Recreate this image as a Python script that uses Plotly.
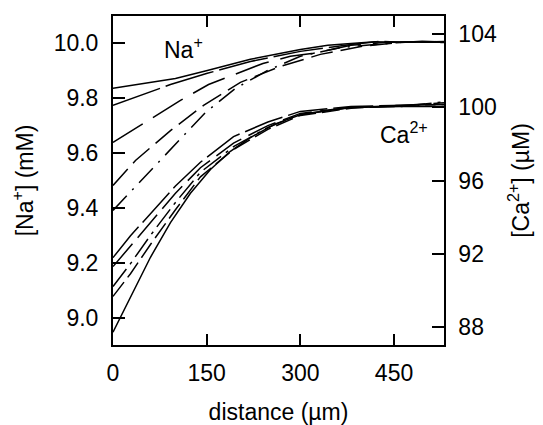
import plotly.graph_objects as go

# ---- Na+ profiles (left axis, mM) ----
na1_x = [0, 60, 100, 151, 220, 300, 344, 381, 420, 461, 495, 530]
na1_y = [9.836, 9.858, 9.872, 9.901, 9.942, 9.978, 9.993, 10.000, 10.006, 10.003, 10.008, 10.005]
na2_x = [0, 43, 92, 151, 220, 300, 381, 430, 461, 500, 530]
na2_y = [9.774, 9.810, 9.850, 9.891, 9.934, 9.971, 9.996, 10.008, 10.004, 10.006, 10.003]
na3_x = [0, 36, 68, 108, 153, 196, 240, 284, 321, 381, 440, 530]
na3_y = [9.639, 9.690, 9.737, 9.792, 9.850, 9.887, 9.927, 9.953, 9.964, 9.993, 10.005, 10.004]
na4_x = [0, 36, 92, 145, 204, 268, 332, 397, 461, 530]
na4_y = [9.482, 9.573, 9.682, 9.774, 9.858, 9.916, 9.960, 9.989, 10.004, 10.006]
na5_x = [0, 57, 100, 148, 196, 248, 300, 364, 461, 530]
na5_y = [9.391, 9.529, 9.635, 9.748, 9.836, 9.902, 9.953, 9.985, 10.004, 10.007]

# ---- Ca2+ profiles (right axis, uM) ----
ca1_x = [0, 28, 60, 100, 140, 193, 248, 300, 381, 461, 530]
ca1_y = [91.78, 92.98, 94.18, 95.70, 97.00, 98.40, 99.20, 99.78, 100.05, 100.11, 100.16]
ca2_x = [0, 28, 60, 100, 140, 193, 248, 300, 381, 461, 530]
ca2_y = [91.29, 92.40, 93.70, 95.30, 96.70, 98.05, 99.00, 99.67, 100.00, 100.11, 100.25]
ca3_x = [0, 28, 60, 100, 140, 193, 248, 300, 381, 461, 530]
ca3_y = [90.20, 91.45, 93.00, 94.80, 96.45, 97.85, 98.90, 99.62, 100.00, 100.05, 100.30]
ca4_x = [0, 28, 60, 100, 140, 193, 248, 300, 381, 461, 530]
ca4_y = [89.66, 90.90, 92.50, 94.40, 96.20, 97.70, 98.80, 99.56, 99.95, 100.11, 100.16]
ca5_x = [0, 28, 60, 92, 124, 156, 188, 220, 260, 300, 340, 380, 460, 530]
ca5_y = [87.7, 89.6, 91.8, 93.7, 95.3, 96.6, 97.6, 98.35, 99.1, 99.6, 99.8, 100.0, 100.05, 100.05]

x_ticks = [0, 150, 300, 450]
na_ticks = [9.0, 9.2, 9.4, 9.6, 9.8, 10.0]
ca_ticks = [88, 92, 96, 100, 104]

FONT = "Liberation Sans, Arial, sans-serif"

fig = go.Figure()

na_series = [
    (na1_x, na1_y, "solid"),
    (na2_x, na2_y, "50px,6px"),
    (na3_x, na3_y, "35px,12px"),
    (na4_x, na4_y, "22px,8px"),
    (na5_x, na5_y, "20px,8px,2px,8px"),
]
for xs, ys, d in na_series:
    fig.add_trace(go.Scatter(x=xs, y=ys, mode="lines", yaxis="y",
                             line=dict(color="black", width=1.5, dash=d),
                             showlegend=False, hoverinfo="skip"))

ca_series = [
    (ca1_x, ca1_y, "40px,6px"),
    (ca2_x, ca2_y, "30px,8px"),
    (ca3_x, ca3_y, "22px,6px,3px,6px"),
    (ca4_x, ca4_y, "18px,6px"),
    (ca5_x, ca5_y, "solid"),
]
for xs, ys, d in ca_series:
    fig.add_trace(go.Scatter(x=xs, y=ys, mode="lines", yaxis="y2",
                             line=dict(color="black", width=1.5, dash=d),
                             showlegend=False, hoverinfo="skip"))

# page body has an 8px margin, so the figure is 8px smaller than the window
fig.update_layout(
    width=535, height=417,
    margin=dict(l=105, r=99, t=8, b=80, autoexpand=False),
    paper_bgcolor="white", plot_bgcolor="white",
    font=dict(family=FONT, size=23, color="black"),
    xaxis=dict(
        range=[0, 530], tickvals=x_ticks, ticks="inside", ticklen=11,
        tickwidth=1.5, tickcolor="black", automargin=False,
        showline=True, linecolor="black", linewidth=1.5, mirror="ticks",
        showgrid=False, zeroline=False, ticklabelstandoff=7,
        title=dict(text="distance (µm)", font=dict(size=23), standoff=26),
    ),
    yaxis=dict(
        range=[8.9, 10.1], tickvals=na_ticks, tickformat=".1f",
        ticks="inside", ticklen=12, tickwidth=1.5, tickcolor="black",
        showline=True, linecolor="black", linewidth=2, automargin=False,
        showgrid=False, zeroline=False, ticklabelstandoff=8,
        title=dict(text="[Na<sup>+</sup>] (mM)", font=dict(size=23), standoff=16),
    ),
    yaxis2=dict(
        range=[87, 105], tickvals=ca_ticks, overlaying="y", side="right",
        ticks="inside", ticklen=12, tickwidth=1.5, tickcolor="black",
        showline=True, linecolor="black", linewidth=1.5, automargin=False,
        showgrid=False, zeroline=False, ticklabelstandoff=8,
        title=dict(text="[Ca<sup>2+</sup>] (µM)", font=dict(size=23), standoff=17),
    ),
    annotations=[
        dict(text="Na<sup>+</sup>", x=0.2145, y=0.903, xref="paper", yref="paper",
             showarrow=False, font=dict(size=23), xanchor="center", yanchor="middle"),
        dict(text="Ca<sup>2+</sup>", x=0.88, y=0.644, xref="paper", yref="paper",
             showarrow=False, font=dict(size=23), xanchor="center", yanchor="middle"),
    ],
)

fig.write_html("out.html")
